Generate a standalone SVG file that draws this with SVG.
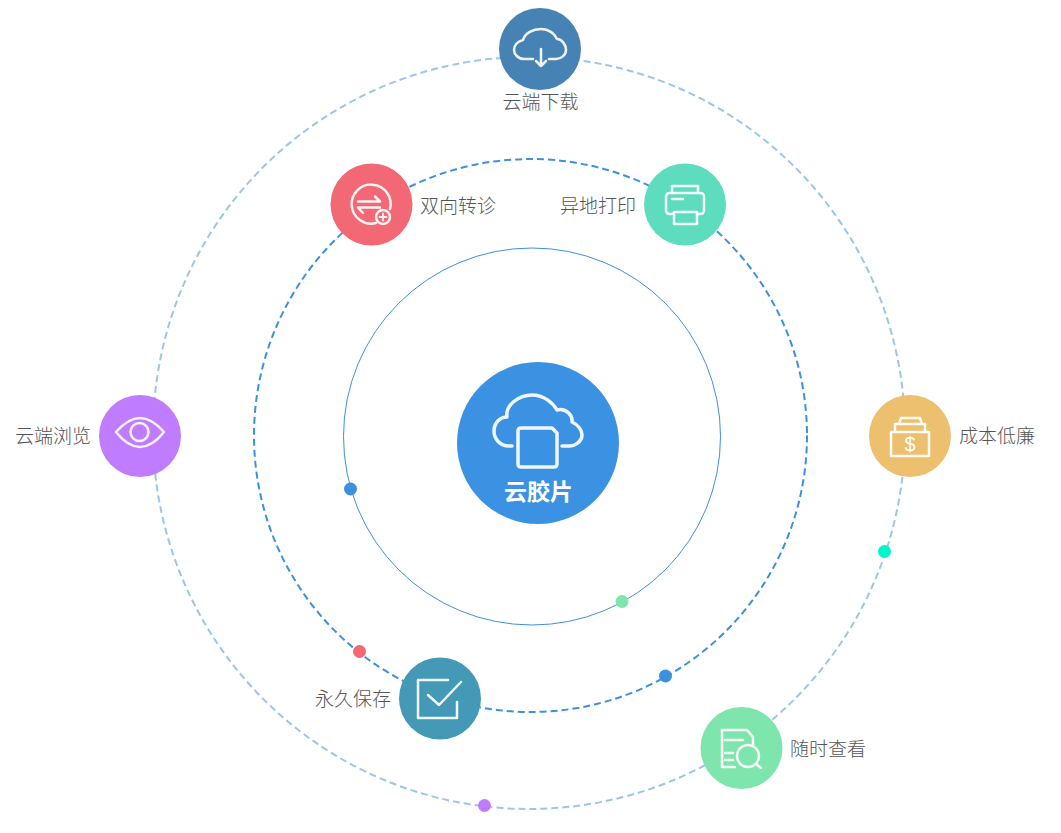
<svg xmlns="http://www.w3.org/2000/svg" width="1061" height="833" viewBox="0 0 1061 833">
<style>
text{font-family:"Noto Sans CJK SC","Noto Sans",sans-serif;font-size:19px;fill:#555;font-weight:300;text-anchor:middle}
.ic{fill:none;stroke:#fff;stroke-width:2.500;stroke-linecap:round;stroke-linejoin:round;stroke-opacity:.92}
.ring{fill:none}
</style>
<rect width="1061" height="833" fill="#fff"/>
<g id="connectors">
<circle class="ring" cx="529" cy="433" r="376" stroke="#9cc5ea" stroke-width="2" stroke-dasharray="7 4"/>
<circle class="ring" cx="530.500" cy="435.500" r="276.500" stroke="#3c90e0" stroke-width="2" stroke-dasharray="7 4"/>
<circle class="ring" cx="532" cy="436.500" r="188.500" stroke="#3c90e0" stroke-width="1"/>
</g>
<g id="dots">
<circle cx="350.500" cy="489" r="6.500" fill="#3c90e0"/>
<circle cx="622" cy="601.500" r="6.500" fill="#7ee5ac"/>
<circle cx="665.500" cy="676" r="6.500" fill="#3c90e0"/>
<circle cx="359.500" cy="651.500" r="6.500" fill="#f26874"/>
<circle cx="884.500" cy="551.500" r="6.500" fill="#00f5c8"/>
<circle cx="484.500" cy="805.500" r="6.500" fill="#c07cff"/>
</g>
<g id="center">
<circle cx="538" cy="443" r="81" fill="#3c92e2"/>
<path class="ic" style="stroke-width:3.500" d="M512 446H509C500 446 494 439 494 431C494 423 500 417 507 417C505 405 519 395 532 395C544 395 553 403 557 410C566 408 573 415 572 422C579 425 582 431 582 435C582 441 576 446 569 446H562"/>
<path class="ic" style="stroke-width:3.500" d="M521 428H552L557 433V464Q557 467 554 467H521Q518 467 518 464V431Q518 428 521 428Z"/>
<text x="538.500" y="500" style="font-size:23px;font-weight:700;fill:#fff">云胶片</text>
</g>
<g id="download">
<circle cx="540" cy="49" r="41" fill="#4682b4"/>
<path class="ic" d="M533 59H524C518 59 514 54 514 50C514 45 518 41 523 40C525 33 533 29 541 29C549 29 555 34 557 39C562 39 566 45 566 50C566 55 561 59 556 59H549"/>
<path class="ic" d="M541 49V66M536 61L541 66L546 61"/>
<text x="540.500" y="109">云端下载</text>
</g>
<g id="convert">
<circle cx="371.500" cy="204.500" r="41" fill="#f26874"/>
<path class="ic" d="M376 223A19.500 19.500 0 1 1 390 209"/>
<path class="ic" d="M358 201.500H380L375 196.500M380 207.500H358L363 213"/>
<circle class="ic" cx="383" cy="217" r="7"/>
<path class="ic" d="M379.500 217H386.500M383 213.500V220.500" style="stroke-width:1.800"/>
<text x="458" y="213">双向转诊</text>
</g>
<g id="print">
<circle cx="685" cy="204.500" r="41" fill="#5edcbe"/>
<path class="ic" d="M672 193V186H698V193"/>
<path class="ic" d="M673 214H670Q666 214 666 210V197Q666 193 670 193H700Q704 193 704 197V210Q704 214 700 214H697"/>
<path class="ic" d="M674 212V224H697V212Z"/>
<path class="ic" d="M672 199H683"/>
<text x="598" y="213">异地打印</text>
</g>
<g id="cost">
<circle cx="910" cy="436" r="41" fill="#ecc06f"/>
<path class="ic" d="M891 432H929V456H891Z"/>
<path class="ic" d="M895 432V424H925V432M899 424L901 418H920L922 424"/>
<text x="910" y="451" style="font-size:20px;fill:#fff;font-weight:400;font-family:'Liberation Sans',sans-serif">$</text>
<text x="997" y="443">成本低廉</text>
</g>
<g id="view">
<circle cx="741.500" cy="748" r="41" fill="#7ee5ac"/>
<path class="ic" d="M735 767H722V730H747L753 737V745"/>
<path class="ic" d="M725 740H743M725 753H733M725 760H733"/>
<circle class="ic" cx="748" cy="756" r="11"/>
<path class="ic" d="M756 764L761 768"/>
<text x="828" y="756">随时查看</text>
</g>
<g id="save">
<circle cx="440" cy="698.500" r="41" fill="#4499b6"/>
<path class="ic" d="M448 680H418V718H457V702"/>
<path class="ic" d="M428 695L439 705L461 682"/>
<text x="353" y="706">永久保存</text>
</g>
<g id="browse">
<circle cx="140" cy="436" r="41" fill="#c07cff"/>
<path class="ic" d="M116 432C124 423 132 418 140 418C148 418 156 423 164 432C156 442 148 447 140 447C132 447 124 442 116 432Z"/>
<circle class="ic" cx="139.500" cy="432" r="9"/>
<text x="53" y="443">云端浏览</text>
</g>
</svg>
